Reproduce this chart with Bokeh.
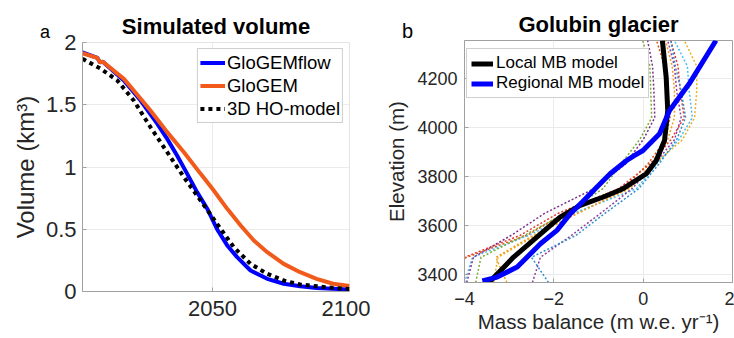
from bokeh.plotting import figure
from bokeh.models import Range1d, FixedTicker, Div
from bokeh.layouts import row, column
from bokeh.embed import file_html
from bokeh.resources import INLINE

FONT = "Liberation Sans"

# ---------------- Panel a: simulated volume (km3) ----------------
years_flow = [2002.6, 2008, 2009, 2010, 2017.7, 2023.8, 2029.9, 2033.5, 2037.1, 2040.8,
              2044.4, 2048.1, 2051.7, 2055.4, 2059, 2063.9, 2070, 2076, 2082, 2088, 2100]
vol_flow = [1.92, 1.877, 1.84, 1.845, 1.695, 1.534, 1.347, 1.226, 1.092, 0.945,
            0.798, 0.665, 0.5, 0.37, 0.276, 0.169, 0.102, 0.062, 0.043, 0.029, 0.016]

years_gem = [2002.6, 2008, 2009, 2010, 2017.7, 2021.3, 2027.4, 2033.5, 2039.6, 2045.7,
             2050, 2055.4, 2060.3, 2065.1, 2070, 2076, 2082, 2088, 2094, 2100]
vol_gem = [1.914, 1.877, 1.84, 1.845, 1.708, 1.614, 1.454, 1.28, 1.119, 0.945,
           0.825, 0.664, 0.53, 0.41, 0.316, 0.222, 0.155, 0.102, 0.062, 0.045]

years_ho = [2002.6, 2005, 2009.2, 2015.3, 2021.3, 2027.4, 2033.5, 2039.6, 2045.7, 2051.7,
            2057.8, 2063.9, 2070, 2076, 2082, 2094, 2100]
vol_ho = [1.87, 1.84, 1.79, 1.695, 1.534, 1.32, 1.119, 0.918, 0.731, 0.543,
          0.356, 0.222, 0.142, 0.088, 0.056, 0.029, 0.021]

a_xticks = [2050, 2100]
a_yticks = [0, 0.5, 1, 1.5, 2]
a_ylabels = {0: "0", 0.5: "0.5", 1: "1", 1.5: "1.5", 2: "2"}

# ---------------- Panel b: Golubin glacier mass-balance profiles ----------------
elev_local = [4355, 4205, 4069, 3947, 3865, 3811, 3750, 3716, 3682, 3634, 3552, 3471, 3416, 3368]
mb_local = [0.43, 0.515, 0.55, 0.478, 0.293, 0.071, -0.449, -0.89, -1.41, -1.86, -2.38, -2.90, -3.19, -3.45]

elev_regional = [4355, 4178, 4069, 3974, 3906, 3885, 3865, 3811, 3756, 3702, 3648, 3580, 3525, 3430, 3389, 3373]
mb_regional = [1.63, 1.03, 0.59, 0.367, -0.004, -0.2, -0.37, -0.74, -1.04, -1.33, -1.63, -1.93, -2.30, -2.82, -3.27, -3.60]

elev_years = [3367, 3470, 3560, 3650, 3750, 3850, 3950, 4040, 4150, 4250, 4355]
mb_year_1 = [-4.6, -4.0, -2.75, -1.9, -0.55, 0.15, 0.62, 0.92, 0.83, 0.78, 0.62]
mb_year_2 = [-4.7, -3.95, -2.6, -1.75, -0.45, 0.1, 0.5, 0.6, 0.55, 0.48, 0.3]
mb_year_3 = [-3.35, -3.25, -2.4, -1.5, -0.3, 0.25, 0.88, 1.15, 1.2, 1.2, 0.92]
mb_year_4 = [-4.0, -3.82, -2.55, -1.55, -0.15, 0.3, 0.8, 1.1, 1.03, 0.99, 0.7]
mb_year_5 = [-3.75, -3.63, -2.65, -1.75, -0.9, -0.5, -0.08, 0.19, 0.17, 0.15, -0.01]
mb_year_6 = [-3.95, -3.8, -2.95, -2.2, -1.1, -0.4, 0.0, 0.26, 0.24, 0.21, 0.1]
mb_year_7 = [-3.05, -3.3, -2.45, -1.45, -0.35, 0.2, 0.55, 0.7, 0.7, 0.65, 0.5]
mb_year_8 = [-2.48, -2.3, -1.6, -0.95, -0.25, 0.25, 0.7, 0.85, 0.75, 0.7, 0.55]
mb_year_9 = [-2.12, -2.5, -1.5, -0.85, -0.1, 0.35, 0.75, 0.95, 0.85, 0.72, 0.62]
mb_years = [mb_year_1, mb_year_2, mb_year_3, mb_year_4, mb_year_5, mb_year_6, mb_year_7, mb_year_8, mb_year_9]
year_colors = ["#e8392b", "#D95319", "#EDB120", "#4DBEEE", "#77AC30", "#7E2F8E", "#f39c20", "#8e3fa0", "#2f8fd0"]

b_xticks = [-4, -2, 0, 2]
b_yticks = [3400, 3600, 3800, 4000, 4200]

panel_letters = ["a", "b"]

AXIS_GRAY = "#a0a0a0"
TICK_TEXT = "#262626"
GRID = "#ebebeb"


def style(p, tick_px, label_px, standoff_x, standoff_y):
    for ax in list(p.xaxis) + list(p.yaxis):
        ax.major_label_text_font = FONT
        ax.major_label_text_font_size = tick_px
        ax.major_label_text_color = TICK_TEXT
        ax.axis_line_color = AXIS_GRAY
        ax.major_tick_line_color = AXIS_GRAY
        ax.major_tick_in = 4
        ax.major_tick_out = 0
        ax.minor_tick_line_color = None
        ax.axis_label_text_font = FONT
        ax.axis_label_text_font_size = label_px
        ax.axis_label_text_font_style = "normal"
        ax.axis_label_text_color = TICK_TEXT
    p.xaxis.major_label_standoff = standoff_x
    p.yaxis.major_label_standoff = standoff_y
    p.xgrid.grid_line_color = GRID
    p.ygrid.grid_line_color = GRID
    p.title.text_font = FONT
    p.title.text_font_size = "22px"
    p.title.text_font_style = "bold"
    p.title.align = "center"
    p.title.text_color = "#000000"


def letter_div(text, left, top, size):
    return Div(text=text, margin=0,
               styles={"position": "absolute", "left": f"{left}px", "top": f"{top}px",
                       "z-index": "5", "font-family": FONT, "font-size": f"{size}px",
                       "line-height": f"{size}px", "color": "#000000"})


# ---------- figure a ----------
pa = figure(width=370, height=338, output_backend="svg", toolbar_location=None,
            x_range=Range1d(2002.6, 2100), y_range=Range1d(0, 2),
            min_border_left=82, min_border_right=21, min_border_top=42, min_border_bottom=47,
            title="Simulated volume")
style(pa, "22px", "24px", 9, 6)
pa.xaxis.ticker = FixedTicker(ticks=a_xticks)
pa.yaxis.ticker = FixedTicker(ticks=a_yticks)
pa.yaxis.major_label_overrides = a_ylabels
pa.yaxis.axis_label = "Volume (km³)"
pa.yaxis.axis_label_standoff = 4
pa.outline_line_color = "#e3e3e3"
pa.title.standoff = 8

pa.line(years_flow, vol_flow, line_color="#0000ff", line_width=4, legend_label="GloGEMflow")
pa.line(years_gem, vol_gem, line_color="#f15a1a", line_width=4, legend_label="GloGEM")
pa.line(years_ho, vol_ho, line_color="#000000", line_width=4, line_dash="4 4",
        legend_label="3D HO-model")

lg = pa.legend[0]
lg.location = "top_right"
lg.margin = 6
lg.padding = 2
lg.spacing = 0
lg.label_height = 23
lg.glyph_height = 23
lg.glyph_width = 25
lg.label_standoff = 2
lg.label_text_font = FONT
lg.label_text_font_size = "18.5px"
lg.label_text_color = "#000000"
lg.border_line_color = AXIS_GRAY
lg.border_line_width = 1
lg.background_fill_alpha = 1

# ---------- figure b ----------
pb = figure(width=364, height=338, output_backend="svg", toolbar_location=None,
            x_range=Range1d(-4, 2), y_range=Range1d(3367, 4355),
            min_border_left=94, min_border_right=2, min_border_top=40, min_border_bottom=56,
            title="Golubin glacier")
style(pb, "18px", "20.5px", 9, 7)
pb.xaxis.ticker = FixedTicker(ticks=b_xticks)
pb.yaxis.ticker = FixedTicker(ticks=b_yticks)
pb.yaxis.axis_label = "Elevation (m)"
pb.yaxis.axis_label_standoff = 6
pb.xaxis.axis_label = "Mass balance (m w.e. yr⁻¹)"
pb.xaxis.axis_label_standoff = 2
pb.outline_line_color = AXIS_GRAY
pb.title.standoff = 8

for mbv, col in zip(mb_years, year_colors):
    pb.line(mbv, elev_years, line_color=col, line_width=1.5, line_dash="2 2")

pb.line(mb_local, elev_local, line_color="#000000", line_width=5, legend_label="Local MB model")
pb.line(mb_regional, elev_regional, line_color="#0000ff", line_width=5, legend_label="Regional MB model")

lb = pb.legend[0]
lb.location = (2, 184)
lb.margin = 0
lb.padding = 4
lb.spacing = 0
lb.label_height = 19
lb.glyph_height = 19
lb.glyph_width = 22
lb.label_standoff = 3
lb.label_text_font = FONT
lb.label_text_font_size = "17px"
lb.label_text_color = "#000000"
lb.border_line_color = AXIS_GRAY
lb.border_line_width = 1
lb.background_fill_alpha = 1

da = letter_div(panel_letters[0], 40, 23, 18)
db = letter_div(panel_letters[1], 402, 21, 20)

layout = row(column(pa), column(pb), da, db)
open("out.html", "w").write(file_html(layout, INLINE))
